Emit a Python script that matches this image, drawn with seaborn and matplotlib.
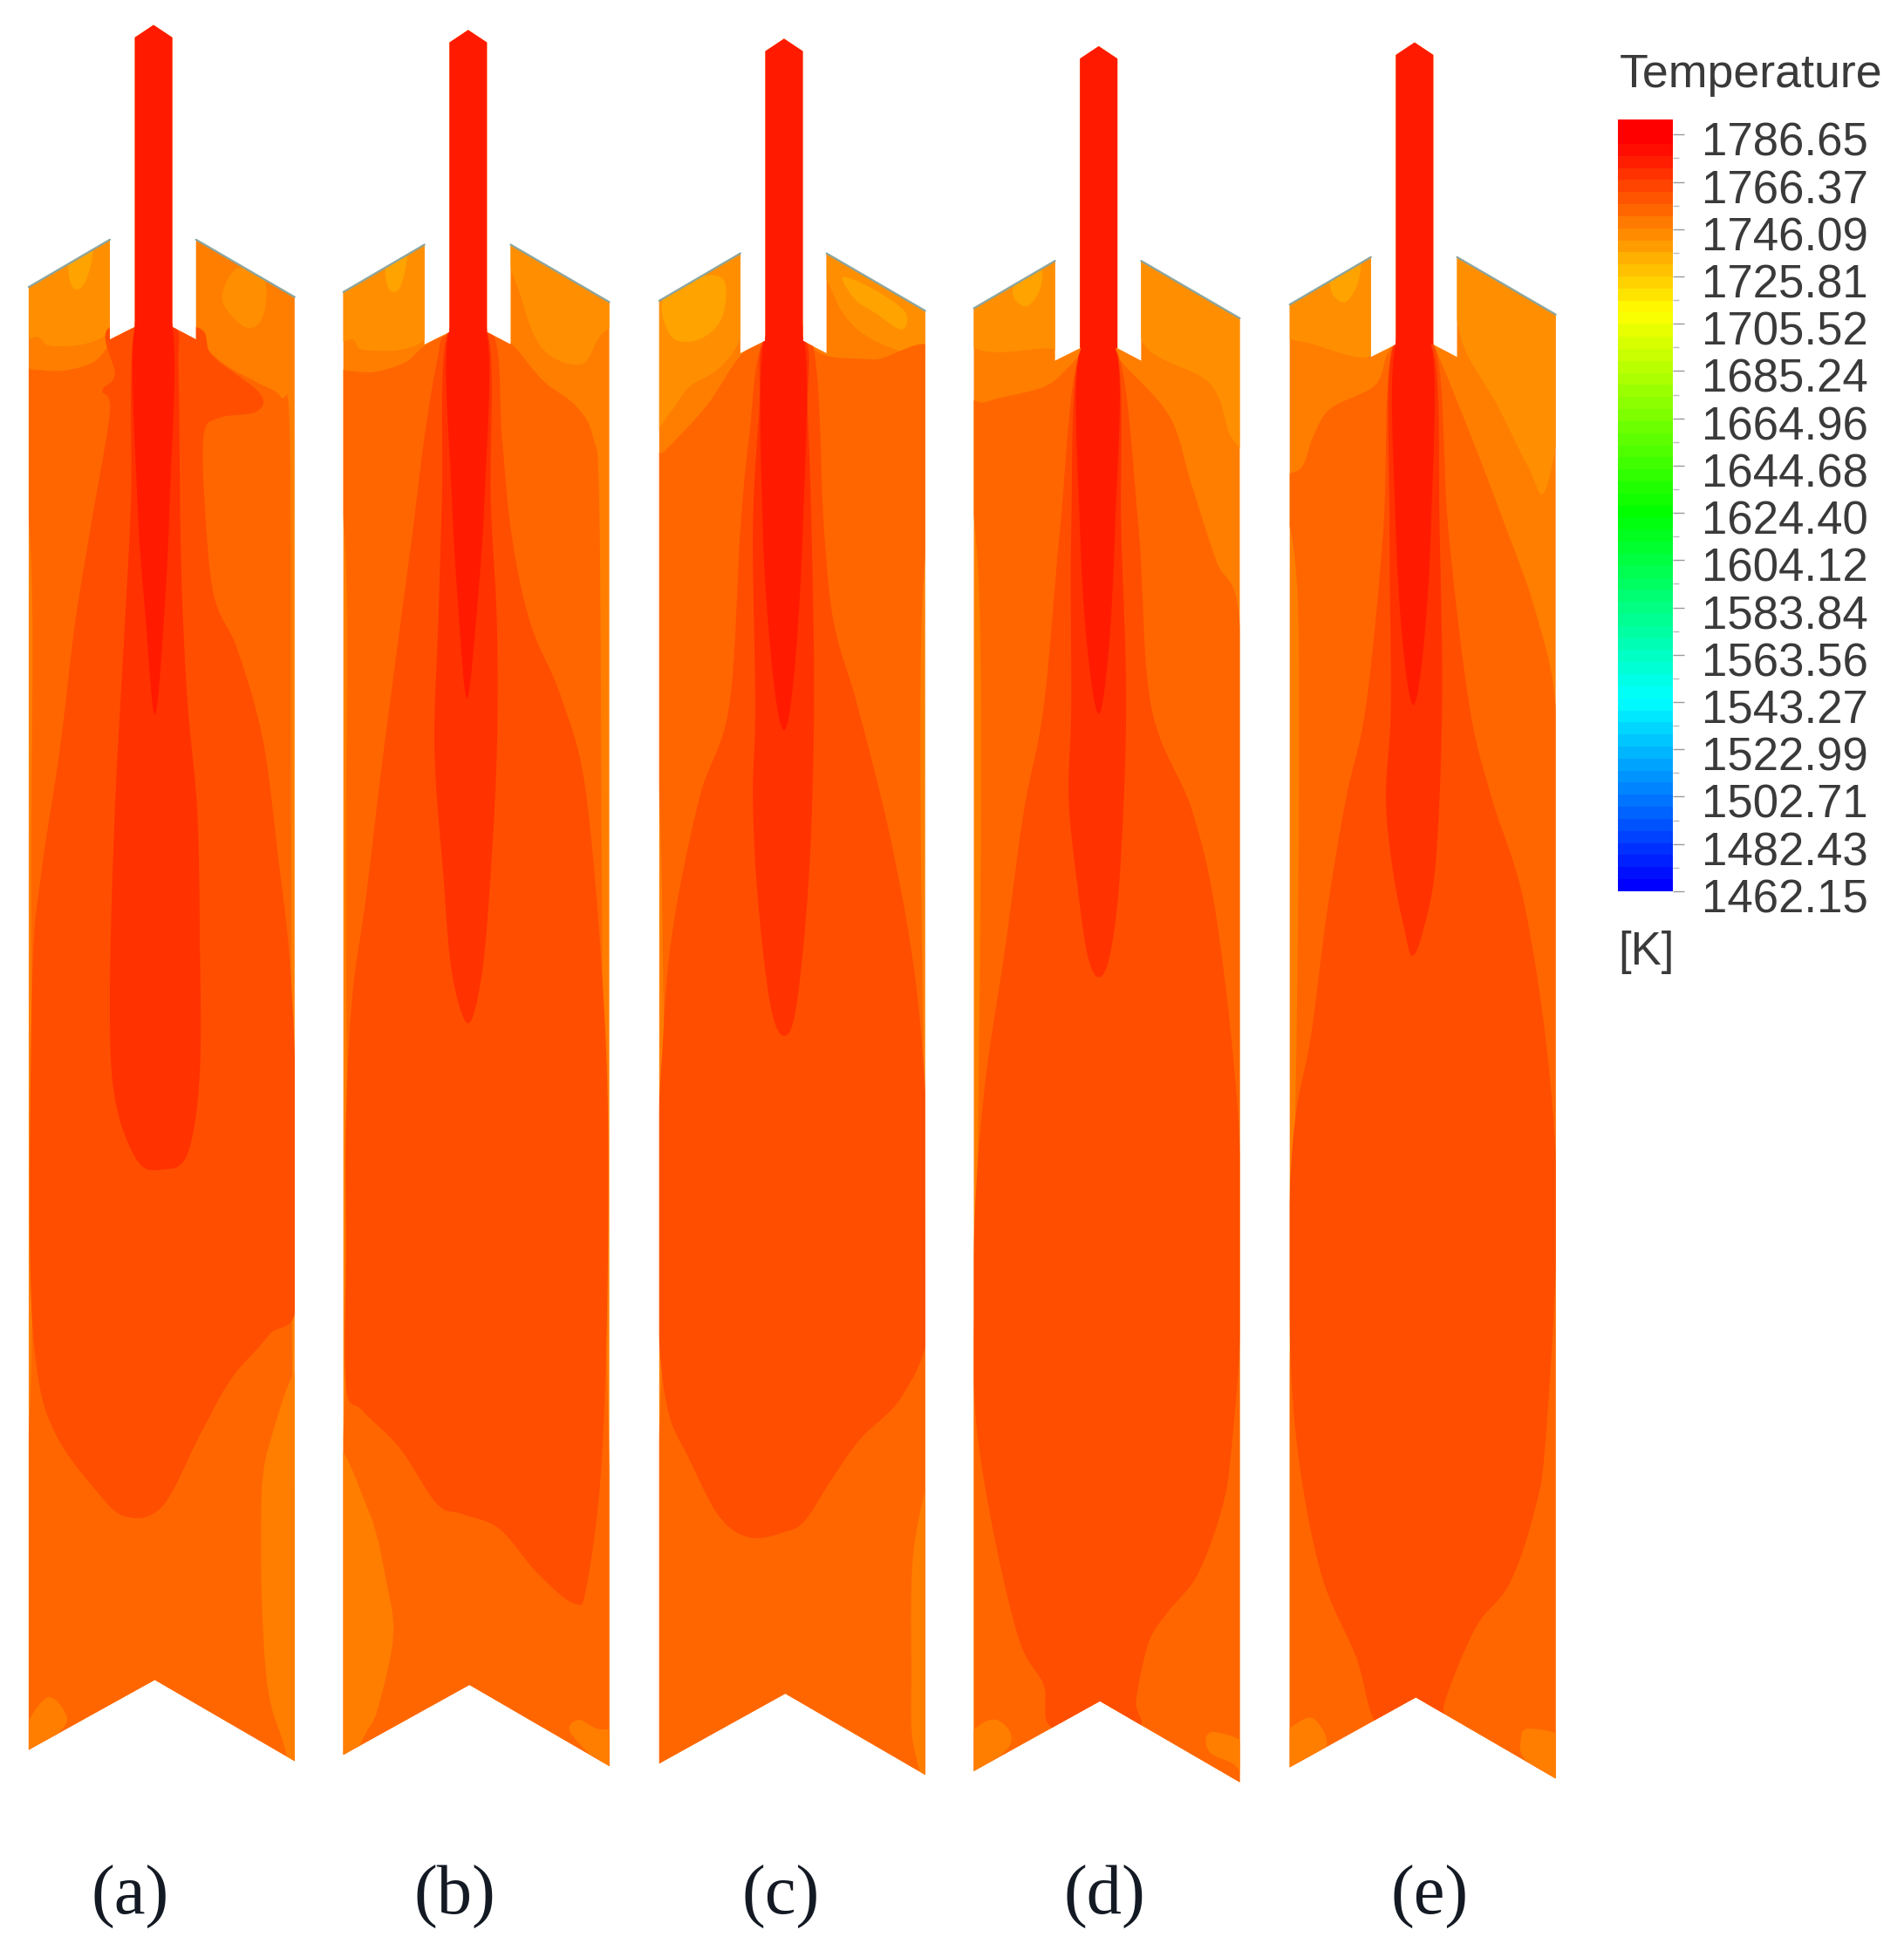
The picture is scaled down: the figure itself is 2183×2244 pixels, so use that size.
import numpy as np
import pandas as pd
import matplotlib
matplotlib.use("Agg")
import matplotlib.pyplot as plt
import matplotlib.transforms as mtrans
from matplotlib.colors import LinearSegmentedColormap, Normalize
from matplotlib.patches import Polygon
import seaborn as sns

W, H = 1525, 1568

# --- colour scale ---
TICK_VALUES = [1786.65, 1766.37, 1746.09, 1725.81, 1705.52, 1685.24, 1664.96, 1644.68, 1624.40,
               1604.12, 1583.84, 1563.56, 1543.27, 1522.99, 1502.71, 1482.43, 1462.15]
BAR_TOP_T = 1793.0
N_BANDS = 64

# --- temperature of each contour zone ---
T_CORE = 1779.0
T_PLUME = 1771.7
T_HOT = 1763.8
T_MAIN = 1756.8
T_WARM = 1749.3
T_LITE = 1744.5
T_PALE = 1739.0

# --- domain outline, panel (a), other panels are shifted ---
OUTLINE_X = [108, 123, 138, 138, 157, 157, 236, 236, 124, 23, 23, 88, 88, 108]
OUTLINE_Y = [30, 20, 30, 262, 272, 192, 238, 1411, 1346, 1402, 230, 192, 272, 262]
PANEL_DX = [0, 252, 505, 757, 1010]
PANEL_DY = [0, 4, 11, 17, 14]
PANEL_NAMES = ["(a)", "(b)", "(c)", "(d)", "(e)"]
NAME_X = [104, 364, 625, 885, 1145]

# --- panel (a) contours ---
a_lite = [[(10, 240), (25, 225), (60, 200), (95, 175), (92, 230), (90, 262), (70, 275), (40, 277), (30, 270), (10, 272)],
          [(178, 240), (196, 262), (210, 255), (212, 225), (190, 215)]]
a_pale = [[(56, 205), (74, 195), (70, 222), (62, 232), (56, 225)]]
a_main = [(10, 296), (25, 296), (50, 297), (75, 290), (90, 274), (108, 262), (138, 262), (157, 272), (180, 292),
          (205, 306), (225, 318), (232, 345), (233, 600), (234, 1100), (240, 1300), (245, 1440), (120, 1440),
          (10, 1440), (25, 1100), (25, 700), (25, 450)]
a_hot = [(88, 262), (92, 300), (82, 313), (88, 330), (73, 420), (60, 500), (48, 600), (33, 700), (26, 780),
         (24, 1000), (30, 1100), (45, 1150), (75, 1192), (100, 1215), (130, 1207), (160, 1150), (185, 1105),
         (215, 1070), (240, 1030), (234, 800), (222, 680), (210, 590), (190, 520), (172, 480), (165, 420),
         (163, 350), (175, 335), (205, 330), (208, 315), (170, 285), (157, 262)]
a_plume = [(108, 262), (105, 400), (100, 500), (92, 650), (88, 800), (92, 880), (110, 930), (130, 937),
           (150, 925), (160, 860), (160, 750), (158, 650), (150, 560), (145, 450), (143, 300), (140, 262)]
a_core = [(108, 262), (110, 400), (117, 500), (124, 573), (131, 500), (136, 400), (138, 262)]
a_spots = [(T_WARM, [(20, 1385), (38, 1360), (52, 1372), (50, 1385), (20, 1410)]),
           (T_WARM, [(245, 1110), (215, 1160), (209, 1230), (213, 1340), (225, 1390), (245, 1425)])]

# --- panel (b) contours ---
b_lite = [[(262, 240), (277, 230), (312, 205), (348, 180), (344, 230), (342, 268), (322, 280), (290, 280), (282, 272), (262, 275)],
          [(410, 190), (418, 240), (435, 280), (465, 292), (480, 270), (500, 240)]]
b_pale = [[(310, 210), (326, 200), (322, 226), (316, 234), (310, 228)]]
b_main = [(262, 297), (277, 297), (300, 298), (325, 290), (340, 277), (360, 268), (390, 268), (409, 275), (435, 305),
          (461, 325), (475, 350), (480, 406), (482, 700), (484, 1000), (492, 1300), (497, 1440), (375, 1440),
          (262, 1440), (277, 1100), (277, 700), (277, 450)]
b_hot = [(358, 268), (350, 290), (340, 350), (330, 430), (318, 520), (305, 620), (293, 720), (282, 800),
         (277, 900), (277, 1000), (277, 1110), (290, 1130), (320, 1160), (350, 1205), (370, 1213), (400, 1225),
         (430, 1260), (460, 1285), (470, 1270), (482, 1170), (487, 1000), (485, 830), (470, 640), (450, 560),
         (425, 500), (410, 430), (402, 350), (395, 268)]
b_plume = [(358, 268), (354, 400), (351, 500), (348, 600), (355, 700), (362, 780), (375, 820), (386, 780),
           (393, 700), (398, 600), (398, 500), (393, 400), (391, 268)]
b_core = [(359, 268), (362, 400), (368, 500), (374, 560), (381, 500), (388, 400), (390, 268)]
b_spots = [(T_WARM, [(265, 1170), (295, 1210), (310, 1270), (315, 1310), (305, 1360), (295, 1385), (265, 1415)]),
           (T_WARM, [(458, 1390), (463, 1378), (478, 1385), (497, 1390), (497, 1425)])]

# --- panel (c) contours ---
c_lite = [[(515, 245), (528, 238), (560, 215), (598, 190), (595, 230), (593, 270), (576, 295), (552, 310), (537, 330), (515, 350)],
          [(660, 195), (668, 237), (688, 265), (723, 282), (755, 287), (755, 240)]]
c_pale = [[(531, 240), (560, 222), (580, 225), (578, 255), (560, 272), (538, 270)],
          [(675, 222), (700, 232), (725, 250), (722, 264), (700, 250), (685, 240)]]
c_main = [(515, 380), (532, 362), (566, 325), (593, 285), (615, 272), (640, 272), (662, 285), (700, 288),
          (755, 292), (738, 500), (740, 900), (745, 1300), (750, 1440), (628, 1440), (515, 1440), (530, 1100),
          (530, 700)]
c_hot = [(612, 272), (600, 350), (593, 424), (584, 566), (560, 640), (538, 750), (530, 850), (525, 950),
         (527, 1060), (535, 1130), (552, 1169), (576, 1215), (601, 1232), (630, 1227), (645, 1218), (665, 1187),
         (689, 1153), (723, 1118), (745, 1060), (745, 950), (735, 800), (715, 680), (687, 566), (668, 500),
         (660, 424), (650, 272)]
c_plume = [(612, 272), (608, 330), (603, 424), (605, 566), (603, 640), (607, 720), (617, 805), (628, 830),
           (638, 805), (648, 700), (652, 566), (650, 424), (647, 330), (645, 272)]
c_core = [(612, 272), (611, 424), (619, 540), (628, 585), (636, 540), (643, 424), (644, 272)]
c_spots = [(T_WARM, [(750, 1190), (732, 1240), (730, 1340), (732, 1400), (750, 1430)])]

# --- panel (d) contours ---
d_lite = [[(768, 255), (780, 245), (812, 222), (850, 195), (847, 240), (845, 285), (841, 279), (792, 282), (768, 270)],
          [(915, 205), (915, 274), (969, 307), (986, 350), (1000, 350), (1000, 240)]]
d_pale = [[(813, 228), (833, 215), (833, 232), (823, 245), (813, 240)]]
d_main = [(770, 335), (790, 322), (836, 310), (856, 294), (870, 280), (890, 280), (900, 292), (937, 334),
          (954, 387), (974, 449), (993, 499), (994, 700), (998, 1100), (1000, 1440), (880, 1440), (770, 1440),
          (782, 1000), (785, 500)]
d_hot = [(864, 285), (849, 424), (836, 566), (820, 650), (805, 760), (790, 860), (782, 950), (779, 1050),
         (782, 1141), (797, 1234), (817, 1316), (836, 1350), (844, 1385), (910, 1385), (910, 1362), (920, 1316),
         (935, 1292), (959, 1262), (978, 1211), (986, 1164), (994, 1050), (992, 900), (975, 740), (955, 650),
         (922, 566), (912, 424), (896, 285)]
d_plume = [(864, 285), (858, 424), (858, 566), (856, 640), (863, 710), (871, 765), (880, 783), (889, 765),
           (897, 700), (902, 566), (898, 424), (895, 285)]
d_core = [(864, 285), (865, 424), (871, 520), (880, 572), (888, 520), (893, 424), (895, 285)]
d_spots = [(T_WARM, [(775, 1395), (785, 1382), (798, 1378), (809, 1388), (806, 1402), (775, 1425)]),
           (T_WARM, [(966, 1392), (975, 1388), (1000, 1400), (1000, 1435), (990, 1415), (970, 1405)])]

# --- panel (e) contours ---
e_lite = [[(1020, 255), (1033, 245), (1065, 225), (1103, 200), (1100, 240), (1098, 285), (1049, 275), (1030, 270)],
          [(1170, 205), (1170, 270), (1199, 324), (1224, 374), (1238, 392), (1255, 300), (1255, 240)]]
e_pale = [[(1067, 218), (1088, 205), (1088, 225), (1078, 242), (1067, 235)]]
e_main = [(1025, 395), (1043, 374), (1052, 349), (1066, 327), (1101, 309), (1111, 284), (1120, 275),
          (1145, 275), (1150, 280), (1180, 354), (1204, 417), (1229, 487), (1246, 566), (1247, 700),
          (1250, 1100), (1255, 1440), (1130, 1440), (1025, 1440), (1036, 1000), (1040, 500)]
e_hot = [(1115, 280), (1108, 424), (1094, 566), (1078, 640), (1063, 730), (1050, 830), (1037, 900), (1032, 1000),
         (1037, 1141), (1057, 1257), (1086, 1327), (1106, 1385), (1157, 1385), (1157, 1364), (1182, 1304),
         (1209, 1269), (1229, 1211), (1238, 1153), (1247, 980), (1240, 850), (1220, 720), (1195, 640),
         (1177, 566), (1160, 424), (1150, 280)]
e_plume = [(1115, 280), (1113, 424), (1114, 566), (1110, 640), (1116, 700), (1125, 745), (1131, 766),
           (1140, 745), (1150, 690), (1155, 566), (1153, 424), (1148, 280)]
e_core = [(1117, 280), (1118, 424), (1124, 520), (1132, 565), (1140, 520), (1146, 424), (1147, 280)]
e_spots = [(T_WARM, [(1025, 1395), (1040, 1380), (1052, 1377), (1062, 1392), (1058, 1405), (1025, 1430)]),
           (T_WARM, [(1218, 1395), (1224, 1385), (1255, 1395), (1255, 1435), (1235, 1420), (1220, 1408)])]

PANELS = [
    (a_lite, a_pale, a_main, a_hot, a_plume, a_core, a_spots),
    (b_lite, b_pale, b_main, b_hot, b_plume, b_core, b_spots),
    (c_lite, c_pale, c_main, c_hot, c_plume, c_core, c_spots),
    (d_lite, d_pale, d_main, d_hot, d_plume, d_core, d_spots),
    (e_lite, e_pale, e_main, e_hot, e_plume, e_core, e_spots),
]

sns.set_theme(style="white")
plt.rcParams["font.family"] = ["Liberation Sans", "DejaVu Sans"]

ramp = LinearSegmentedColormap.from_list(
    "fluent", [(0.0, "#0000ff"), (0.25, "#00ffff"), (0.5, "#00ff00"), (0.77, "#ffff00"), (1.0, "#ff0000")], N=512)
norm = Normalize(TICK_VALUES[-1], TICK_VALUES[0])


def smooth(points, n=10):
    # closed Catmull-Rom through the read-off points
    p = np.array(points, dtype=float)
    out = []
    for i in range(len(p)):
        p0, p1, p2, p3 = p[i - 1], p[i], p[(i + 1) % len(p)], p[(i + 2) % len(p)]
        for t in np.linspace(0, 1, n, endpoint=False):
            out.append(0.5 * (2 * p1 + (p2 - p0) * t + (2 * p0 - 5 * p1 + 4 * p2 - p3) * t ** 2
                              + (3 * p1 - p0 - 3 * p2 + p3) * t ** 3))
    return np.array(out)


fig = plt.figure(figsize=(21.83, 22.44), dpi=100)
ax = fig.add_axes([0, 0, 1, 1])
ax.set_xlim(0, W)
ax.set_ylim(H, 0)
ax.axis("off")


def zone(points, temp, clip):
    xy = smooth(points)
    art = ax.fill(xy[:, 0], xy[:, 1], color=ramp(norm(temp)), lw=0)[0]
    art.set_clip_path(clip)


for i, (lite, pale, main, hot, plume, core, spots) in enumerate(PANELS):
    dx, dy = PANEL_DX[i], PANEL_DY[i]
    xy = np.column_stack([np.array(OUTLINE_X) + dx, np.array(OUTLINE_Y) + dy])
    shape = Polygon(xy, closed=True, fc=ramp(norm(T_WARM)), ec="none")
    ax.add_patch(shape)
    for part in lite:
        zone(part, T_LITE, shape)
    for part in pale:
        zone(part, T_PALE, shape)
    zone(main, T_MAIN, shape)
    zone(hot, T_HOT, shape)
    for temp, part in spots:
        zone(part, temp, shape)
    zone(plume, T_PLUME, shape)
    zone(core, T_CORE, shape)
    # the nozzle itself is one colour
    top = np.array([[108, 262], [108, 30], [123, 20], [138, 30], [138, 262]]) + [dx, dy]
    ax.fill(top[:, 0], top[:, 1], color=ramp(norm(T_CORE)), lw=0)
    # thin grey-blue wall on the sloped tops
    ax.plot([23 + dx, 88 + dx], [230 + dy, 192 + dy], color="#8aa5a0", lw=1.6)
    ax.plot([157 + dx, 236 + dx], [192 + dy, 238 + dy], color="#8aa5a0", lw=1.6)
    ax.text(NAME_X[i], 1520, PANEL_NAMES[i], family="Liberation Serif", fontsize=58, color="#141a24",
            ha="center", va="center")

# --- colour bar ---
cax = fig.add_axes([1296 / W, 1 - 714 / H, 44 / W, 618 / H])
bar_values = np.linspace(BAR_TOP_T, TICK_VALUES[-1], N_BANDS)
bar_df = pd.DataFrame({"T": bar_values})
sns.heatmap(bar_df, ax=cax, cmap=ramp, vmin=norm.vmin, vmax=norm.vmax, cbar=False,
            xticklabels=False, yticklabels=False)


def to_row(t):
    return np.interp(t, [TICK_VALUES[-1], BAR_TOP_T], [N_BANDS, 0])


major = to_row(np.array(TICK_VALUES))
minor = (major[:-1] + major[1:]) / 2
cax.yaxis.tick_right()
cax.set_yticks(major)
cax.set_yticks(minor, minor=True)
cax.set_yticklabels([f"{v:.2f}" for v in TICK_VALUES])
cax.tick_params(axis="y", which="major", length=9.5, width=1, color="#999999", pad=14, labelsize=38,
                labelcolor="#3a3a3a", right=True, left=False)
cax.tick_params(axis="y", which="minor", length=5, width=1, color="#bbbbbb", right=True, left=False)
cax.set_ylabel("")
cax.set_xlabel("")
shift = mtrans.ScaledTranslation(0, -5 / 100, fig.dpi_scale_trans)
for lab in cax.get_yticklabels():
    lab.set_transform(lab.get_transform() + shift)
for s in cax.spines.values():
    s.set_visible(False)

ax.text(1297, 60, "Temperature", fontsize=38.7, color="#3a3a3a", ha="left", va="center")
ax.text(1296, 763, "[K]", fontsize=38, color="#3a3a3a", ha="left", va="center")

fig.savefig("out.png", dpi=100)
plt.close(fig)
